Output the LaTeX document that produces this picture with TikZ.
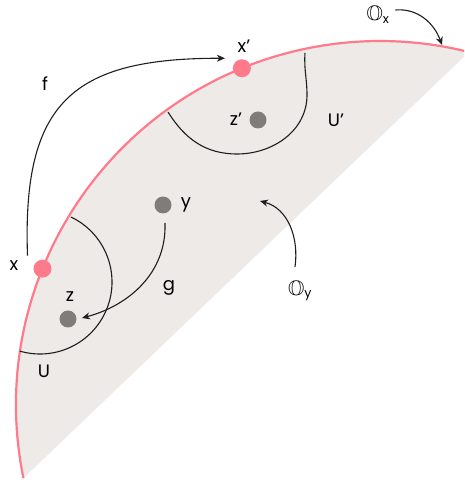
\documentclass[tikz,border=0pt]{standalone}
\usepackage{fontspec}
\usepackage{amssymb}
\setmainfont{Poppins}
\usetikzlibrary{arrows.meta}
\definecolor{edgered}{RGB}{255,122,138}
\definecolor{sheet}{RGB}{237,234,231}
\definecolor{pointgrey}{RGB}{128,124,121}
\definecolor{ink}{RGB}{30,30,30}
\newcommand{\sheaf}[1]{{\fontsize{21}{23}\selectfont$\mathbb{O}$}\textsubscript{#1}}

\begin{document}
\begin{tikzpicture}[x=1pt,y=1pt,
  every node/.style={inner sep=0pt, outer sep=0pt, font=\fontsize{18}{20}\selectfont},
  reddot/.style={circle,fill=edgered,minimum size=18pt},
  greydot/.style={circle,fill=pointgrey,minimum size=17pt},
  nbhd/.style={ink,line width=1.1pt},
  map/.style={ink,line width=1.1pt,-{Stealth[length=8pt,width=7pt,inset=2.5pt]}}]
\useasboundingbox (0,0) rectangle (464,487);
\clip (0,0) rectangle (464,487);
\coordinate (O) at (380,82);
% the sheet and its red edge
\fill[sheet] ([shift={(191.6:364)}]O) arc[start angle=191.6,end angle=75.85,radius=364] -- cycle;
\draw[edgered,line width=2.2pt] ([shift={(191.6:364)}]O) arc[start angle=191.6,end angle=75.85,radius=364];
% neighbourhoods U and U'
\draw[nbhd] (40,205) ++(64.5:72) arc[start angle=64.5,end angle=-106.4,radius=72];
\draw[nbhd] (168,375) to[out=-58,in=180] (237,333) to[out=0,in=-90] (307,392) to[out=90,in=-94] (305,434);
% points
\node[reddot] (xpt) at ([shift={(158:364)}]O) {};
\node[reddot] (xppt) at ([shift={(112.3:364)}]O) {};
\node[greydot] (ypt) at (163,282) {};
\node[greydot] (zpt) at (68,168) {};
\node[greydot] (zppt) at (258,367) {};
% labels
\node (xlab) at (14,221) {x};
\node (xplab) at (244,441) {x’};
\node (yplab) at (186,282) {y};
\node (zlab) at (70,190) {z};
\node (zplab) at (236,368) {z’};
\node (ulab) at (44,116) {U};
\node (uplab) at (336,367) {U’};
\node (flab) at (45,403) {f};
\node (glab) at (169,199) {g};
\node (oylab) at (300,196) {\sheaf{y}};
\node (oxlab) at (378,472) {\sheaf{x}};
% maps
\coordinate (fstart) at ([shift={(-15,13)}]xpt.center);
\coordinate (fend) at ([shift={(-17,10)}]xppt.center);
\draw[map] (fstart) to[out=92,in=180,looseness=1.4] (fend);
\coordinate (gstart) at ([shift={(2,-18)}]ypt.center);
\coordinate (gend) at ([shift={(14,1)}]zpt.center);
\draw[map] (gstart) to[out=-88,in=15] (gend);
\coordinate (oystart) at ([shift={(-5,14)}]oylab.north);
\coordinate (oytip) at (260,286);
\draw[map] (oystart) to[out=82,in=-15] (oytip);
\coordinate (oxstart) at ([shift={(6,5)}]oxlab.east);
\coordinate (oxtip) at (442,442);
\draw[map] (oxstart) to[out=5,in=110] (oxtip);
\end{tikzpicture}
\end{document}
